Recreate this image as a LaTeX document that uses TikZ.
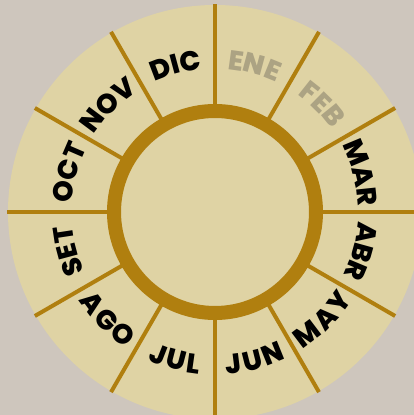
\documentclass[tikz,border=0pt]{standalone}
\usepackage{fontspec}
\newfontfamily\popfam{Poppins}[UprightFont={* ExtraBold}]
\newcommand\mfont{\popfam\fontsize{27.5}{27.5}\selectfont}
\definecolor{bgc}{HTML}{CEC6BD}
\definecolor{disc}{HTML}{DFD3A4}
\definecolor{gold}{HTML}{B07F0F}
\definecolor{dim}{HTML}{ACA383}
\tikzset{
  letter/.style={font=\mfont,inner sep=0pt,anchor=center},
  spoke/.style={draw=gold,line width=4pt},
  ring/.style={draw=gold,line width=14pt,fill=disc},
}
\newcommand\rt{153}
\newcommand\lsp{1}
% #1 name, #2 centre angle, #3 sign (+1 tops out, -1 tops in), #4 colour, #5#6#7 letters
\newcommand\mword[7]{%
\begingroup\mfont
\pgfmathsetmacro\wa{width("#5")}%
\pgfmathsetmacro\wb{width("#6")}%
\pgfmathsetmacro\wc{width("#7")}%
\pgfmathsetmacro\cv{180/(pi*\rt)}%
\pgfmathsetmacro\dab{((\wa+\wb)/2+\lsp)*\cv}%
\pgfmathsetmacro\dbc{((\wb+\wc)/2+\lsp)*\cv}%
\pgfmathsetmacro\mmid{(\dab+\dbc)/2+(\wc-\wa)/4*\cv}%
\pgfmathsetmacro\angA{#2+(#3)*\mmid}%
\pgfmathsetmacro\angB{#2+(#3)*(\mmid-\dab)}%
\pgfmathsetmacro\angC{#2+(#3)*(\mmid-\dab-\dbc)}%
\pgfmathsetmacro\rotA{\angA-(#3)*90}%
\pgfmathsetmacro\rotB{\angB-(#3)*90}%
\pgfmathsetmacro\rotC{\angC-(#3)*90}%
\node[letter,text=#4,rotate=\rotA] (#1-a) at (\angA:\rt) {#5};
\node[letter,text=#4,rotate=\rotB] (#1-b) at (\angB:\rt) {#6};
\node[letter,text=#4,rotate=\rotC] (#1-c) at (\angC:\rt) {#7};
\endgroup}
\begin{document}
\begin{tikzpicture}[x=1pt,y=1pt]
\useasboundingbox (0,0) rectangle (414,415);
\fill[bgc] (0,0) rectangle (414,415);
\begin{scope}
\clip (0,0) rectangle (414,415);
\begin{scope}[shift={(215,203)}]
\fill[disc] (0,0) circle (207);
\foreach \a in {0,30,...,330} \draw[spoke] (\a:100) -- (\a:208);
\draw[ring] (0,0) circle (101);
\coordinate (centre) at (0,0);
\end{scope}
\end{scope}
\begin{scope}[shift={(215,203)}]
\mword{ene}{75}{1}{dim}{E}{N}{E}
\mword{feb}{45}{1}{dim}{F}{E}{B}
\mword{mar}{15}{1}{black}{M}{A}{R}
\mword{abr}{-15}{1}{black}{A}{B}{R}
\mword{may}{-45}{-1}{black}{M}{A}{Y}
\mword{jun}{-75}{-1}{black}{J}{U}{N}
\mword{jul}{-105}{-1}{black}{J}{U}{L}
\mword{ago}{-135}{-1}{black}{A}{G}{O}
\mword{set}{195}{1}{black}{S}{E}{T}
\mword{oct}{165}{1}{black}{O}{C}{T}
\mword{nov}{135}{1}{black}{N}{O}{V}
\mword{dic}{105}{1}{black}{D}{I}{C}
\end{scope}
\end{tikzpicture}
\end{document}
